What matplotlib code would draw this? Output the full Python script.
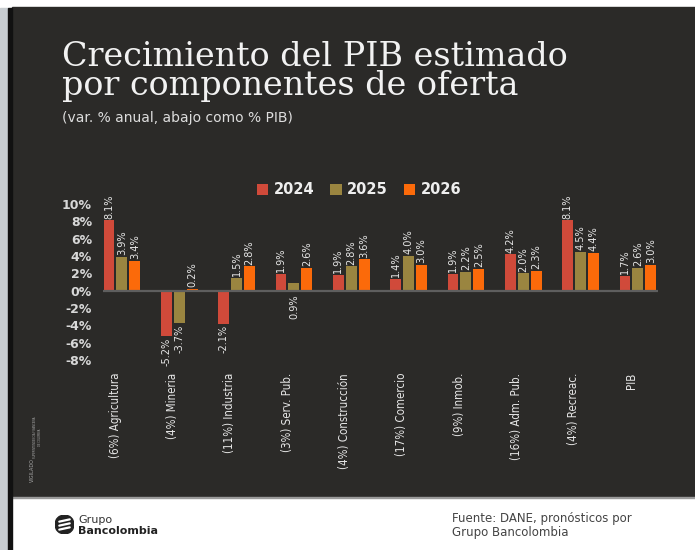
import os
import matplotlib
matplotlib.use('Agg')
import matplotlib.pyplot as plt
import numpy as np
from matplotlib import font_manager
from matplotlib.font_manager import FontProperties
from matplotlib.patches import Rectangle, Circle
from matplotlib.transforms import blended_transform_factory

# Data
categories = ['(6%) Agricultura', '(4%) Mineria', '(11%) Industria', '(3%) Serv. Pub.',
              '(4%) Construcción', '(17%) Comercio', '(9%) Inmob.', '(16%) Adm. Pub.',
              '(4%) Recreac.', 'PIB']
years = ['2024', '2025', '2026']
y2024 = [8.1, -5.2, -3.8, 1.9, 1.8, 1.4, 1.9, 4.2, 8.1, 1.7]
y2025 = [3.9, -3.7, 1.5, 0.9, 2.8, 4.0, 2.2, 2.0, 4.5, 2.6]
y2026 = [3.4, 0.2, 2.8, 2.6, 3.6, 3.0, 2.5, 2.3, 4.4, 3.0]
# printed labels (industria 2024 bar is drawn deeper than its label says)
lab2024 = ['8.1%', '-5.2%', '-2.1%', '1.9%', '1.9%', '1.4%', '1.9%', '4.2%', '8.1%', '1.7%']
lab2025 = ['3.9%', '-3.7%', '1.5%', '0.9%', '2.8%', '4.0%', '2.2%', '2.0%', '4.5%', '2.6%']
lab2026 = ['3.4%', '0.2%', '2.8%', '2.6%', '3.6%', '3.0%', '2.5%', '2.3%', '4.4%', '3.0%']
yticks = [-8, -6, -4, -2, 0, 2, 4, 6, 8, 10]

colors = ['#d04a3a', '#9a8540', '#fb6a0a']
BG = '#2b2a28'
TXT = '#e6e6e6'

W, H = 695, 550


def find_narrow():
    # look for any condensed / narrow sans face that is installed
    wanted = ['liberationsansnarrow-regular', 'dejavusanscondensed.', 'notosans-condensed.',
              'opensans_condensed-regular', 'opensans-condensedregular',
              'opensanscondensed-regular', 'robotocondensed-regular',
              'roboto_condensed-regular', 'notosans-semicondensed.']
    files = [f.fname for f in font_manager.fontManager.ttflist]
    for w in wanted:
        for fn in files:
            if w in os.path.basename(fn).lower():
                return fn
    return None


narrow_file = find_narrow()
if narrow_file:
    cat_font = FontProperties(fname=narrow_file, size=8.3)
    val_font = FontProperties(fname=narrow_file, size=7.8)
else:
    cat_font = FontProperties(family='DejaVu Sans', size=7.5)
    val_font = FontProperties(family='DejaVu Sans', size=7)


def fx(px):
    return px / W


def fy(py):
    return 1 - py / H


fig = plt.figure(figsize=(W / 100, H / 100), dpi=100)
fig.patch.set_facecolor('white')

# background panel and left strips
fig.patches.append(Rectangle((fx(12), fy(497)), 1 - fx(12), fy(7) - fy(497),
                             transform=fig.transFigure, color=BG, zorder=-10))
fig.patches.append(Rectangle((fx(12), fy(498)), 1 - fx(12), 1.2 / H,
                             transform=fig.transFigure, color='#9a9a9a', zorder=-10))
fig.patches.append(Rectangle((0, 0), fx(8), fy(8), transform=fig.transFigure,
                             color='#c8cdd1', zorder=-10))
fig.patches.append(Rectangle((fx(8), 0), fx(4), fy(8), transform=fig.transFigure,
                             color='#111111', zorder=-10))

# title block
fig.text(fx(62), fy(66), 'Crecimiento del PIB estimado', fontsize=24,
         family='DejaVu Serif', color='#f2f2f2', va='baseline')
fig.text(fx(62), fy(95), 'por componentes de oferta', fontsize=24,
         family='DejaVu Serif', color='#f2f2f2', va='baseline')
fig.text(fx(62), fy(122), '(var. % anual, abajo como % PIB)', fontsize=10,
         color='#dddddd', va='baseline')

# main axes
ax = fig.add_axes([fx(103), fy(360), fx(658) - fx(103), fy(204) - fy(360)])
ax.set_facecolor('none')
ax.set_xlim(-0.33, 9.35)
ax.set_ylim(-8, 10)
for s in ax.spines.values():
    s.set_visible(False)

x = np.arange(len(categories))
w = 0.19
off = 0.225
series = [y2024, y2025, y2026]
labels = [lab2024, lab2025, lab2026]
for k, (vals, labs) in enumerate(zip(series, labels)):
    xs = x + (k - 1) * off
    ax.bar(xs, vals, width=w, color=colors[k], label=years[k], zorder=2)
    for i, (xi, v, t) in enumerate(zip(xs, vals, labs)):
        if k == 1 and i == 3:
            # this one is printed under the axis
            ax.text(xi, -0.45, t, rotation=90, ha='center', va='top',
                    fontproperties=val_font, color=TXT, clip_on=False)
        elif v >= 0:
            ax.text(xi, v + 0.2, t, rotation=90, ha='center', va='bottom',
                    fontproperties=val_font, color=TXT, clip_on=False)
        else:
            ax.text(xi, v - 0.2, t, rotation=90, ha='center', va='top',
                    fontproperties=val_font, color=TXT, clip_on=False)

ax.axhline(0, color='#5e5e5e', lw=1.6, zorder=3)

ax.set_yticks(yticks)
ax.set_yticklabels(['%d%%' % t for t in yticks], fontsize=9, fontweight='bold',
                   color='#d8d8d8')
ax.tick_params(axis='y', length=0, pad=8)
ax.set_xticks([])

# category labels under the chart
trans = blended_transform_factory(ax.transData, fig.transFigure)
for i, c in enumerate(categories):
    ax.text(i - 0.12, fy(373), c, rotation=90, ha='center', va='top',
            fontproperties=cat_font, color=TXT, transform=trans, clip_on=False)

leg = ax.legend(loc='center', bbox_to_anchor=(fx(359), fy(190)),
                bbox_transform=fig.transFigure, ncol=3, frameon=False,
                handlelength=0.8, handleheight=0.8, handletextpad=0.35,
                columnspacing=1.1, prop={'size': 10.5, 'weight': 'bold'})
for t in leg.get_texts():
    t.set_color('#eeeeee')

# "vigilado" mark
fig.text(fx(32), fy(482), 'VIGILADO', rotation=90, fontsize=3.5, color='#a8a8a8',
         ha='center', va='bottom')
fig.text(fx(37.5), fy(458), 'SUPERINTENDENCIA FINANCIERA\nDE COLOMBIA', rotation=90,
         fontsize=1.8, color='#a8a8a8', ha='center', va='bottom')

# footer logo
lax = fig.add_axes([fx(55), fy(534), fx(19), fx(19) * W / H])
lax.set_xlim(-1, 1)
lax.set_ylim(-1, 1)
lax.axis('off')
lax.add_patch(Circle((0, 0), 1, color='#222222'))
for yy in [-0.42, 0.0, 0.42]:
    lax.plot([-0.55, 0.55], [yy - 0.12, yy + 0.12], color='white', lw=1.6,
             solid_capstyle='round')
fig.text(fx(78), fy(523), 'Grupo', fontsize=8, color='#333333', va='baseline')
fig.text(fx(78), fy(534), 'Bancolombia', fontsize=8, fontweight='bold',
         color='#222222', va='baseline')

fig.text(fx(452), fy(522), 'Fuente: DANE, pronósticos por', fontsize=8.5,
         color='#444444', va='baseline')
fig.text(fx(452), fy(536), 'Grupo Bancolombia', fontsize=8.5, color='#444444',
         va='baseline')

fig.savefig('out.png', dpi=100, facecolor=fig.get_facecolor())
